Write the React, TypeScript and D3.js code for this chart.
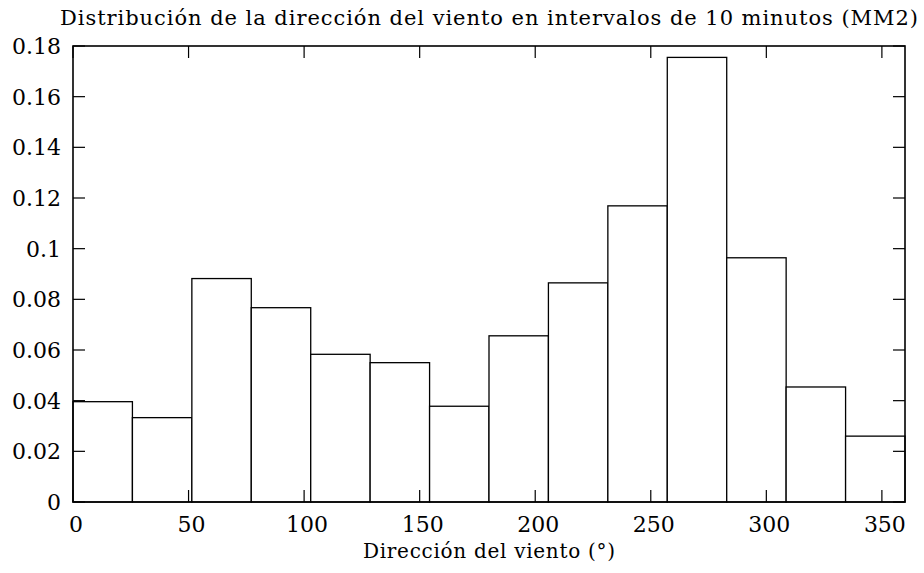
import React from "react";
import * as d3 from "d3";

const binEdges = [0, 25.71, 51.43, 77.14, 102.86, 128.57, 154.29, 180, 205.71, 231.43, 257.14, 282.86, 308.57, 334.29, 360];
const frequencies = [0.0396, 0.0333, 0.0882, 0.0767, 0.0583, 0.055, 0.0378, 0.0656, 0.0865, 0.1169, 0.1755, 0.0964, 0.0454, 0.026];
const xTicks = [0, 50, 100, 150, 200, 250, 300, 350];
const yTicks = [0, 0.02, 0.04, 0.06, 0.08, 0.1, 0.12, 0.14, 0.16, 0.18];
const titleText = "Distribución de la dirección del viento en intervalos de 10 minutos (MM2)";
const xLabelText = "Dirección del viento (°)";

const W = 924;
const H = 573;
const L = 73;
const R = 905;
const T = 46;
const B = 502;
const FONT = "'DejaVu Serif'";

export default function App() {
  const x = d3.scaleLinear().domain([0, 360]).range([L, R]);
  const y = d3.scaleLinear().domain([0, 0.18]).range([B, T]);
  const tickLen = 12;
  const bars = frequencies.map((v, i) => ({ x0: binEdges[i], x1: binEdges[i + 1], v }));
  const ts = { fontFamily: FONT };

  return (
    <svg
      width={W}
      height={H}
      style={{ position: "absolute", left: 0, top: 0, background: "#fff", fontFamily: FONT }}
    >
      <rect x={0} y={0} width={W} height={H} fill="#fff" />
      {bars.map((b, i) => (
        <rect
          key={i}
          x={x(b.x0)}
          y={y(b.v)}
          width={x(b.x1) - x(b.x0)}
          height={y(0) - y(b.v)}
          fill="#fff"
          stroke="#000"
          strokeWidth={1.3}
        />
      ))}
      {xTicks.map((t) => (
        <g key={"xt" + t}>
          <line x1={x(t)} x2={x(t)} y1={B} y2={B - tickLen} stroke="#000" strokeWidth={1.2} />
          <line x1={x(t)} x2={x(t)} y1={T} y2={T + tickLen} stroke="#000" strokeWidth={1.2} />
          <text x={x(t) + 3} y={532} textAnchor="middle" fontSize={22} fill="#000" style={ts}>
            {d3.format("d")(t)}
          </text>
        </g>
      ))}
      {yTicks.map((t) => (
        <g key={"yt" + t}>
          <line x1={L} x2={L + tickLen} y1={y(t)} y2={y(t)} stroke="#000" strokeWidth={1.2} />
          <line x1={R} x2={R - tickLen} y1={y(t)} y2={y(t)} stroke="#000" strokeWidth={1.2} />
          <text x={61} y={y(t)} dy="0.36em" textAnchor="end" fontSize={22} fill="#000" style={ts}>
            {String(+t.toFixed(2))}
          </text>
        </g>
      ))}
      <rect x={L} y={T} width={R - L} height={B - T} fill="none" stroke="#000" strokeWidth={1.6} />
      <text
        x={(59 + 919) / 2}
        y={25}
        textAnchor="middle"
        fontSize={21}
        textLength={858}
        lengthAdjust="spacing"
        fill="#000"
        style={ts}
      >
        {titleText}
      </text>
      <text
        x={(L + R) / 2}
        y={558}
        textAnchor="middle"
        fontSize={20}
        textLength={252}
        lengthAdjust="spacing"
        fill="#000"
        style={ts}
      >
        {xLabelText}
      </text>
    </svg>
  );
}
